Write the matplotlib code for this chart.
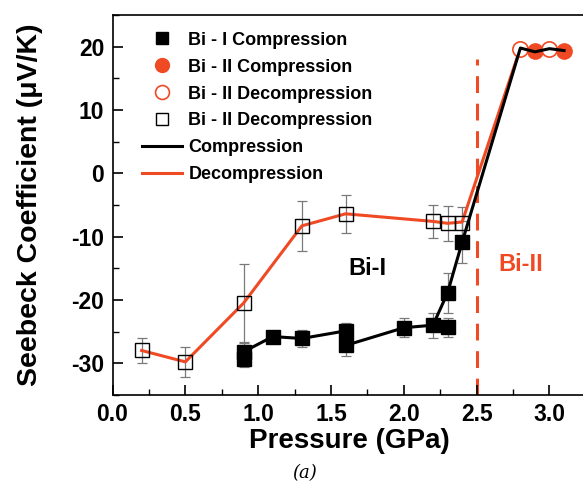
import matplotlib
matplotlib.use("Agg")
import matplotlib.pyplot as plt
from matplotlib.lines import Line2D
from matplotlib.ticker import MultipleLocator, FormatStrFormatter

# ── Colors ──────────────────────────────────────────────
RED = "#F04A24"
BLACK = "#000000"
ERR = "#7a7a7a"

plt.rcParams.update({
    "font.family": ["Liberation Sans", "DejaVu Sans"],
    "font.weight": "bold",
    "font.size": 15,
    "axes.unicode_minus": False,
})

# ── Data ────────────────────────────────────────────────
# Bi-I compression (filled squares)
comp_p = [0.9, 0.9, 1.1, 1.3, 1.6, 1.6, 2.0, 2.2, 2.3, 2.3, 2.4]
comp_s = [-28.3, -29.4, -25.8, -26.1, -24.9, -27.2, -24.4, -24.0, -24.3, -18.9, -10.9]
comp_err = [1.5, 1.2, 0.6, 1.3, 1.3, 1.6, 1.5, 2.0, 1.5, 3.1, 3.3]

# decompression (open squares)
dec_p = [0.2, 0.5, 0.9, 1.3, 1.6, 2.2, 2.3, 2.4]
dec_s = [-28.0, -29.8, -20.5, -8.3, -6.4, -7.6, -7.9, -7.8]
dec_err = [2.0, 2.4, 6.2, 4.0, 3.0, 2.6, 2.8, 2.4]

# Bi-II points
bi2_comp_p = [2.9, 3.1]
bi2_comp_s = [19.3, 19.3]
bi2_dec_p = [2.8, 3.0]
bi2_dec_s = [19.6, 19.6]

# guide lines
line_comp_p = [0.9, 1.1, 1.3, 1.6, 1.6, 2.0, 2.2, 2.3, 2.4, 2.8, 2.9, 3.0, 3.1]
line_comp_s = [-28.2, -25.8, -26.1, -24.9, -27.2, -24.4, -24.0, -18.9, -10.9, 19.8, 19.2, 19.7, 19.4]
line_dec_p = [0.2, 0.5, 0.9, 1.3, 1.6, 2.2, 2.3, 2.4, 2.8]
line_dec_s = [-28.0, -29.8, -20.5, -8.3, -6.4, -7.6, -7.9, -7.7, 19.8]

fig = plt.figure(figsize=(5.83, 4.88), dpi=100)
ax = fig.add_axes([0.193, 0.191, 0.812, 0.778])

ax.plot(line_dec_p, line_dec_s, color=RED, lw=2.2, zorder=2)
ax.errorbar(dec_p, dec_s, yerr=dec_err, fmt="none", ecolor=ERR, elinewidth=0.9,
            capsize=3.5, capthick=0.9, zorder=1)
ax.plot(dec_p, dec_s, "s", ms=10, mfc="none", mec=BLACK, mew=1.0, zorder=3)

ax.errorbar(comp_p, comp_s, yerr=comp_err, fmt="none", ecolor=ERR, elinewidth=0.9,
            capsize=3.5, capthick=0.9, zorder=1)
ax.plot(comp_p, comp_s, "s", ms=10, color=BLACK, zorder=4)
ax.plot(line_comp_p, line_comp_s, color=BLACK, lw=2.2, zorder=5)

ax.plot(bi2_comp_p, bi2_comp_s, "o", ms=11, color=RED, zorder=3)
ax.plot(bi2_dec_p, bi2_dec_s, "o", ms=11, mfc="white", mec=RED, mew=1.2, zorder=3.5)

ax.axvline(2.5, ymin=0, ymax=0.885, color=RED, lw=2.2, ls=(0, (5.5, 3.5)), zorder=1)

ax.text(1.75, -15, "Bi-I", ha="center", va="center", fontsize=17, fontweight="bold")
ax.text(2.80, -14.4, "Bi-II", ha="center", va="center", fontsize=17, fontweight="bold", color=RED)

ax.set_xlim(0, 3.25)
ax.set_ylim(-35, 25)
ax.xaxis.set_major_locator(MultipleLocator(0.5))
ax.xaxis.set_minor_locator(MultipleLocator(0.25))
ax.yaxis.set_major_locator(MultipleLocator(10))
ax.yaxis.set_minor_locator(MultipleLocator(5))
ax.xaxis.set_major_formatter(FormatStrFormatter("%.1f"))
ax.tick_params(which="major", direction="in", length=7, width=1.2, labelsize=16.5, pad=6)
ax.tick_params(which="minor", direction="in", length=4, width=1.0)
for s in ax.spines.values():
    s.set_linewidth(1.2)
ax.spines["right"].set_visible(False)

ax.set_xlabel("Pressure (GPa)", fontsize=20, fontweight="bold", labelpad=1)
ax.set_ylabel("Seebeck Coefficient (μV/K)", fontsize=20.5, fontweight="bold", labelpad=20)

handles = [
    Line2D([], [], ls="none", marker="s", ms=8, color=BLACK),
    Line2D([], [], ls="none", marker="o", ms=10, color=RED),
    Line2D([], [], ls="none", marker="o", ms=10, mfc="white", mec=RED, mew=1.2),
    Line2D([], [], ls="none", marker="s", ms=8, mfc="white", mec=BLACK, mew=1.0),
    Line2D([], [], color=BLACK, lw=2.2),
    Line2D([], [], color=RED, lw=2.2),
]
labels = ["Bi - I Compression", "Bi - II Compression", "Bi - II Decompression",
          "Bi - II Decompression", "Compression", "Decompression"]
ax.legend(handles, labels, loc="upper left", bbox_to_anchor=(0.04, 0.985), frameon=False,
          fontsize=13, handlelength=2.2, handletextpad=0.35, labelspacing=0.55,
          borderaxespad=0.2)

fig.text(0.523, 0.03, "(a)", ha="center", va="center", fontsize=13,
         family="DejaVu Serif", style="italic", fontweight="normal")

fig.savefig("out.png", dpi=100)
